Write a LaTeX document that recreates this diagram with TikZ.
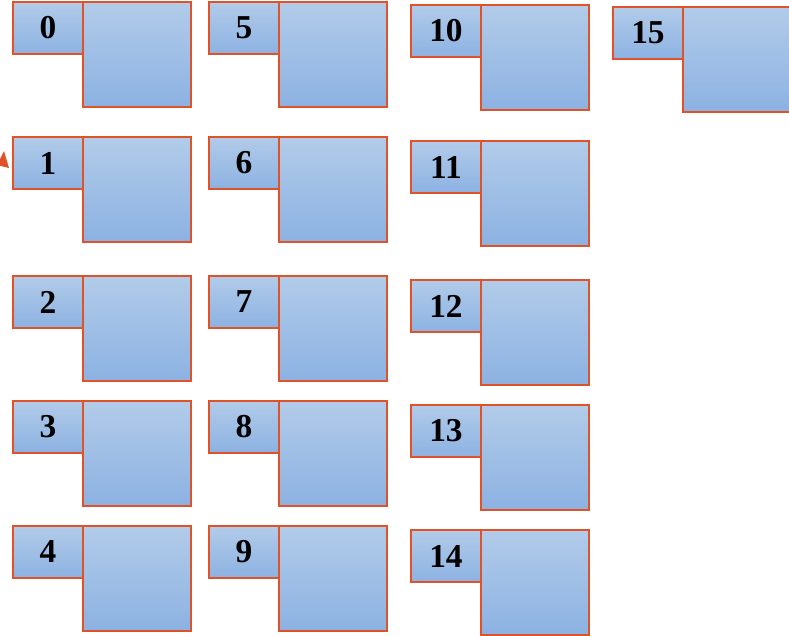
\documentclass[tikz,border=0pt]{standalone}
\usepackage{fontspec}
\setmainfont{Liberation Serif}
\usepackage{xcolor}
\usepackage{tikz}
\usetikzlibrary{arrows.meta,positioning}

\definecolor{slotedge}{RGB}{224,82,40}
\definecolor{slottop}{RGB}{178,203,233}
\definecolor{slotbot}{RGB}{140,178,226}

\tikzset{
  slotbase/.style={draw=slotedge, line width=1.1pt, top color=slottop, bottom color=slotbot,
    inner sep=0pt, outer sep=0pt, anchor=north west},
  idbox/.style={slotbase, minimum width=1.4cm, minimum height=1.04cm,
    font=\fontsize{19}{19}\selectfont\bfseries},
  bodybox/.style={slotbase, minimum width=2.16cm, minimum height=2.1cm},
}

\begin{document}
\begin{tikzpicture}[x=0.02cm, y=-0.02cm]

% page frame
\useasboundingbox (0,0) rectangle (789,636);
\clip (0,0) rectangle (789,636);

% first column
\node[idbox] (id0) at (13,2) {0};
\node[bodybox] (body0) at (id0.north east) {};
\node[idbox] (id1) at (13,137) {1};
\node[bodybox] (body1) at (id1.north east) {};
\node[idbox] (id2) at (13,276) {2};
\node[bodybox] (body2) at (id2.north east) {};
\node[idbox] (id3) at (13,401) {3};
\node[bodybox] (body3) at (id3.north east) {};
\node[idbox] (id4) at (13,526) {4};
\node[bodybox] (body4) at (id4.north east) {};

% second column
\node[idbox] (id5) at (209,2) {5};
\node[bodybox] (body5) at (id5.north east) {};
\node[idbox] (id6) at (209,137) {6};
\node[bodybox] (body6) at (id6.north east) {};
\node[idbox] (id7) at (209,276) {7};
\node[bodybox] (body7) at (id7.north east) {};
\node[idbox] (id8) at (209,401) {8};
\node[bodybox] (body8) at (id8.north east) {};
\node[idbox] (id9) at (209,526) {9};
\node[bodybox] (body9) at (id9.north east) {};

% third column
\node[idbox] (id10) at (411,5) {10};
\node[bodybox] (body10) at (id10.north east) {};
\node[idbox] (id11) at (411,141) {11};
\node[bodybox] (body11) at (id11.north east) {};
\node[idbox] (id12) at (411,280) {12};
\node[bodybox] (body12) at (id12.north east) {};
\node[idbox] (id13) at (411,405) {13};
\node[bodybox] (body13) at (id13.north east) {};
\node[idbox] (id14) at (411,530) {14};
\node[bodybox] (body14) at (id14.north east) {};

% fourth column
\node[idbox] (id15) at (613,7) {15};
\node[bodybox] (body15) at (id15.north east) {};

% arrow tip at the left edge
\fill[slotedge] (4,151) -- (9,168) -- (-3,165) -- cycle;

\end{tikzpicture}
\end{document}
